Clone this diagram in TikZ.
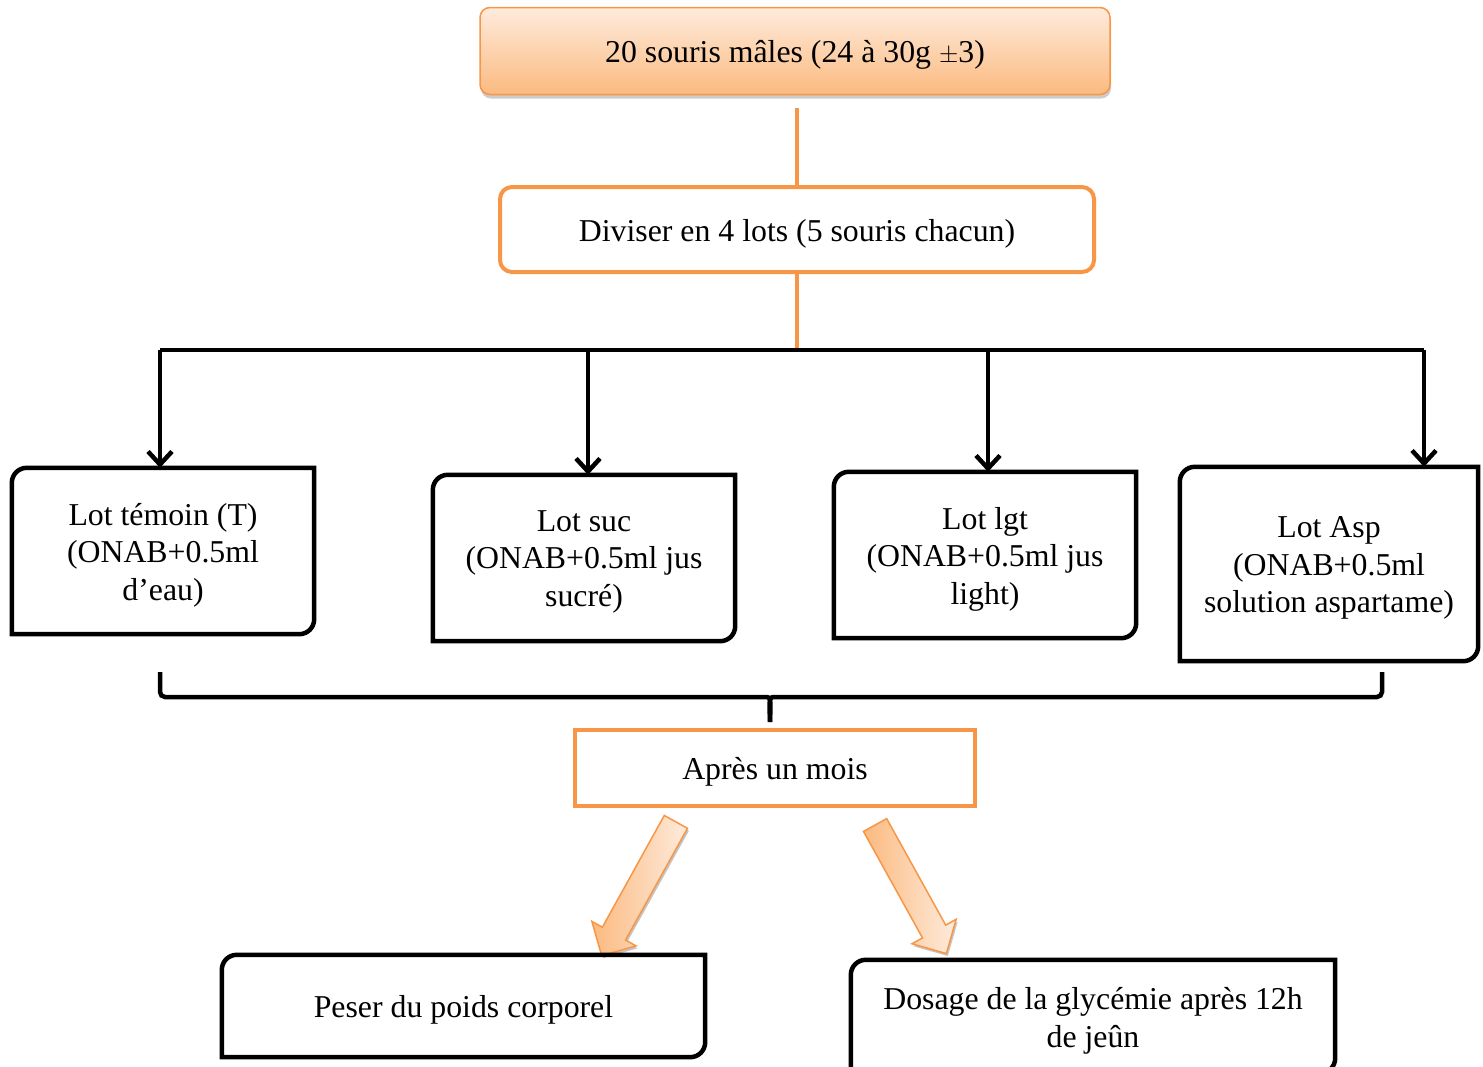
\documentclass[tikz,border=0pt]{standalone}
\usepackage{fontspec}
\setmainfont{Liberation Serif}
\usetikzlibrary{arrows.meta, calc, shapes, shadows, positioning}
\definecolor{orng}{HTML}{F79646}
\definecolor{peachlt}{HTML}{FEEBDC}
\definecolor{peachdk}{HTML}{FBBA80}
\tikzstyle{txt}=[font=\fontsize{31.8}{37.5}\selectfont, align=center, inner sep=0pt, execute at begin node={\rule{0pt}{31pt}}, execute at end node={\rule[-8pt]{0pt}{0pt}}]
\tikzstyle{frame}=[line width=4.5pt]
\tikzstyle{oline}=[draw=orng, line width=3.5pt]
\tikzstyle{obox}=[txt, draw=orng, line width=4pt]
\tikzstyle{lot}=[inner sep=0pt, minimum width=302pt, minimum height=166pt]
\tikzstyle{lottext}=[txt, yshift=-4.5pt]
\tikzstyle{bigarrow}=[single arrow, draw=orng, line width=1.5pt, inner sep=12.5pt, single arrow head extend=12pt, left color=peachdk, right color=peachlt, drop shadow={shadow xshift=1.5pt, shadow yshift=-2.5pt, fill=black!45}]
% frame with top left and bottom right corners rounded
\newcommand{\roundframe}[2][15pt]{\draw[frame] ([yshift=-#1]#2.north west) arc[start angle=180, end angle=90, radius=#1] -- (#2.north east) -- ([yshift=#1]#2.south east) arc[start angle=0, end angle=-90, radius=#1] -- (#2.south west) -- cycle;}

\begin{document}
\begin{tikzpicture}[x=1pt, y=-1pt]
\useasboundingbox (0,0) rectangle (1483,1066);
\node [txt, draw=orng, line width=1.5pt, rounded corners=10pt, top color=peachlt, bottom color=peachdk, minimum width=630pt, minimum height=87pt, drop shadow={shadow xshift=1pt, shadow yshift=-4pt, fill=black!40}] (mice) at (795,51) {20 souris mâles (24 à 30g $\pm$3)};
\node [obox, rounded corners=12pt, minimum width=594pt, minimum height=85pt] (split) at (797,229.5) {Diviser en 4 lots (5 souris chacun)};
\node [lot, label={[lottext]center:{Lot témoin (T)\\(ONAB+0.5ml\\d’eau)}}] (temoin) at (163,551) {};
\node [lot, label={[lottext]center:{Lot suc\\(ONAB+0.5ml jus\\sucré)}}] (suc) at (584,558) {};
\node [lot, label={[lottext]center:{Lot lgt\\(ONAB+0.5ml jus\\light)}}] (lgt) at (985,555) {};
\node [lot, minimum width=298pt, minimum height=194pt, label={[lottext]center:{Lot Asp\\(ONAB+0.5ml\\solution aspartame)}}] (asp) at (1329,564) {};
\node [obox, minimum width=400pt, minimum height=76pt] (month) at (775,768) {Après un mois};
\node [txt, minimum width=483pt, minimum height=102pt] (weigh) at (463.5,1006) {Peser du poids corporel};
\node [lot, minimum width=484pt, minimum height=113pt, label={[lottext, yshift=-0.5pt]center:{Dosage de la glycémie après 12h\\de jeûn}}] (gluc) at (1093,1016.5) {};
\node [bigarrow, minimum height=153pt, rotate=241] (arrL) at (642,883) {};
\node [bigarrow, minimum height=147pt, rotate=299] (arrR) at (907.5,883.5) {};
\foreach \n in {temoin, suc, lgt, asp, weigh, gluc} {\roundframe{\n}}
\coordinate (barL) at (160,350); \coordinate (barR) at (1424,350);
\coordinate (braceL) at (160,672); \coordinate (braceR) at (1382,672); \coordinate (braceM) at (770,722);
\draw [oline] ([yshift=-13pt]mice.south -| split.north) -- (split.north);
\draw [oline] (split.south) -- (split.south |- barL);
\draw [frame] (barL) -- (barR);
\foreach \x/\n in {160/temoin, 588/suc, 988/lgt, 1424/asp}{
\coordinate (top\n) at (\x,350);
\draw [frame, -{Straight Barb[length=13pt, width=24pt]}] (top\n) -- (top\n |- \n.north);}
\draw [frame, rounded corners=5pt] (braceL) -- ++(0,25) -- ++(602,0) to [out=0,in=90] (braceM);
\draw [frame, rounded corners=5pt] (braceR) -- ++(0,25) -- ++(-604,0) to [out=180,in=90] (braceM);
\end{tikzpicture}
\end{document}
